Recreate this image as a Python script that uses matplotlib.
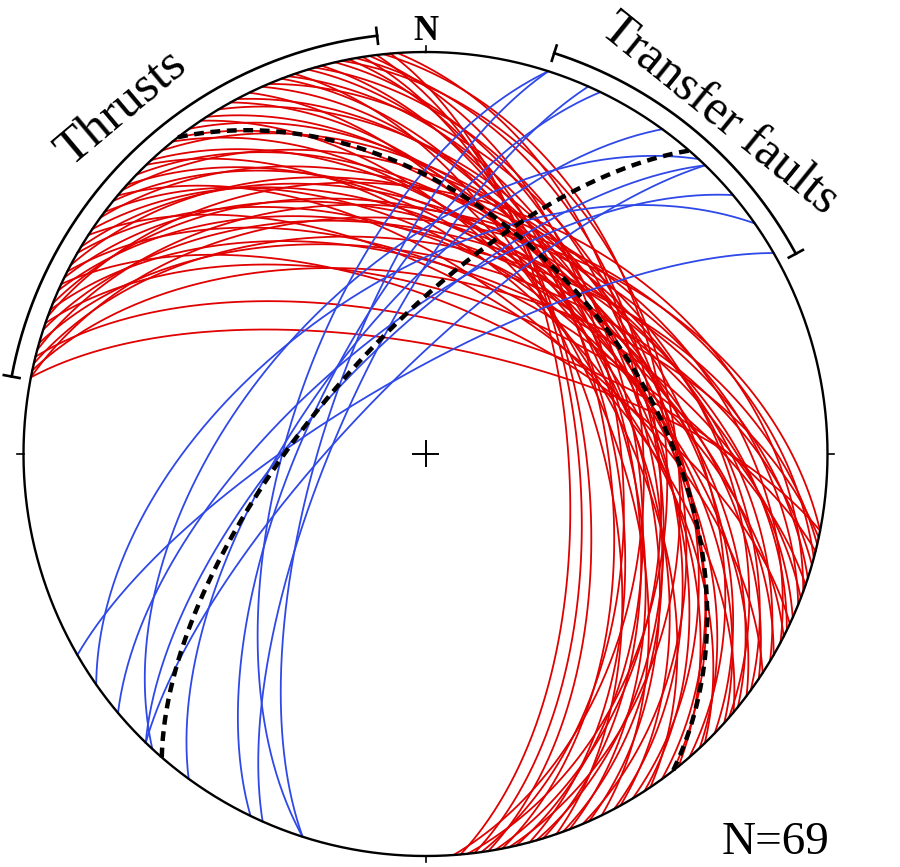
import numpy as np
import matplotlib
matplotlib.use("Agg")
import matplotlib.pyplot as plt

# ---------------- data (dip direction / dip, degrees) ----------------
thrust_dipdir = [85, 83, 81,
                 86, 84, 82, 80, 79, 78, 77, 75, 74, 73, 71, 70, 69, 67, 66,
                 64, 62, 61, 59, 57, 56, 54, 52, 51, 49, 47, 46, 44, 42, 41, 40,
                 39, 37, 36, 34, 33, 31, 30, 28, 27, 26, 25, 24, 22, 21, 20, 19,
                 18, 16, 15, 14, 13, 12, 11, 11]
thrust_dip = [61, 59, 57.5,
              45, 40, 50, 42, 53, 38, 47, 52, 43, 49, 55, 45, 50, 40, 48,
              53, 44, 49, 41, 46, 52, 43, 45, 49, 40, 47, 52, 43, 48, 38, 55,
              45, 50, 40, 46, 56, 42, 49, 38, 53, 44, 60, 47, 41, 52, 36, 57,
              45, 50, 40, 63, 47, 54, 68, 42]

transfer_dipdir = [287.8, 287.8, 293.9, 295.8, 306.1, 312.8, 314.1, 314.1,
                   319.9, 325.0, 330.0]
transfer_dip = [69, 62, 72, 66, 65, 54, 75, 68, 65, 55, 74]

mean_dipdir = [52, 311]
mean_dip = [44.5, 67.5]

thrust_arc_az = [280.6, 353.4]
transfer_arc_az = [17.8, 61.6]
label_thrusts = "Thrusts"
label_transfer = "Transfer faults"
label_north = "N"
label_n = "N=69"

RED = "#e00000"
BLUE = "#2f48e8"

# ---------------- helpers ----------------
def great_circle(dipdir, dip, n=240):
    d = np.radians(dipdir)
    dp = np.radians(dip)
    s = d - np.pi / 2
    S = np.array([np.sin(s), np.cos(s), 0.0])
    D = np.array([np.sin(d) * np.cos(dp), np.cos(d) * np.cos(dp), np.sin(dp)])
    t = np.linspace(0, np.pi, n)
    v = np.outer(np.cos(t), S) + np.outer(np.sin(t), D)
    plunge = np.arcsin(np.clip(v[:, 2], -1, 1))
    trend = np.arctan2(v[:, 0], v[:, 1])
    r = np.sqrt(2) * np.sin((np.pi / 2 - plunge) / 2)
    return r * np.sin(trend), r * np.cos(trend)


def polar(az, r):
    a = np.radians(az)
    return r * np.sin(a), r * np.cos(a)


# ---------------- figure ----------------
W, H = 900, 867
cx, cy, R = 425.5, 454.0, 402.0
fig = plt.figure(figsize=(W / 100, H / 100), dpi=100)
ax = fig.add_axes([0, 0, 1, 1])
ax.set_xlim(-cx / R, (W - cx) / R)
ax.set_ylim(-(H - cy) / R, cy / R)
ax.set_aspect("equal")
ax.axis("off")

# primitive circle
x, y = polar(np.linspace(0, 360, 721), 1.0)
ax.plot(x, y, color="black", lw=1.7, zorder=5)
# cardinal ticks
for az in [0, 90, 180, 270]:
    x, y = polar(az, np.array([1.0, 1.016]))
    ax.plot(x, y, color="black", lw=1.2, zorder=5)
# centre cross
c = 12.5 / R
ax.plot([-c, c], [0, 0], color="black", lw=1.4, zorder=5)
ax.plot([0, 0], [-c, c], color="black", lw=1.4, zorder=5)

# great circles
for dd, dp in zip(thrust_dipdir, thrust_dip):
    gx, gy = great_circle(dd, dp)
    ax.plot(gx, gy, color=RED, lw=1.3, zorder=2)
for dd, dp in zip(transfer_dipdir, transfer_dip):
    gx, gy = great_circle(dd, dp)
    ax.plot(gx, gy, color=BLUE, lw=1.3, zorder=3)
for dd, dp in zip(mean_dipdir, mean_dip):
    gx, gy = great_circle(dd, dp)
    ax.plot(gx, gy, color="black", lw=3.2, dashes=(2.2, 1.5), zorder=4)

# bracket arcs
rb = 421.0 / R
for a0, a1 in [thrust_arc_az, transfer_arc_az]:
    x, y = polar(np.linspace(a0, a1, 200), rb)
    ax.plot(x, y, color="black", lw=1.9, zorder=5)
    for a in (a0, a1):
        x, y = polar(a, np.array([rb - 8 / R, rb + 8 / R]))
        ax.plot(x, y, color="black", lw=1.9, zorder=5)

serif = ["Liberation Serif", "DejaVu Serif"]
tx, ty = polar(318.7, 460 / R)
ax.text(tx, ty, label_thrusts, rotation=40, ha="center", va="center",
        fontsize=37, family=serif, rotation_mode="anchor")
tx, ty = polar(40.9, 449 / R)
ax.text(tx, ty, label_transfer, rotation=-39, ha="center", va="center",
        fontsize=36, family=serif, rotation_mode="anchor")
ax.text(0, (cy - 31) / R, label_north, ha="center", va="center",
        fontsize=25, family=serif, fontweight="bold")
ax.text((776 - cx) / R, (cy - 843) / R, label_n, ha="center", va="center",
        fontsize=34, family=serif)

fig.savefig("out.png", dpi=100)
